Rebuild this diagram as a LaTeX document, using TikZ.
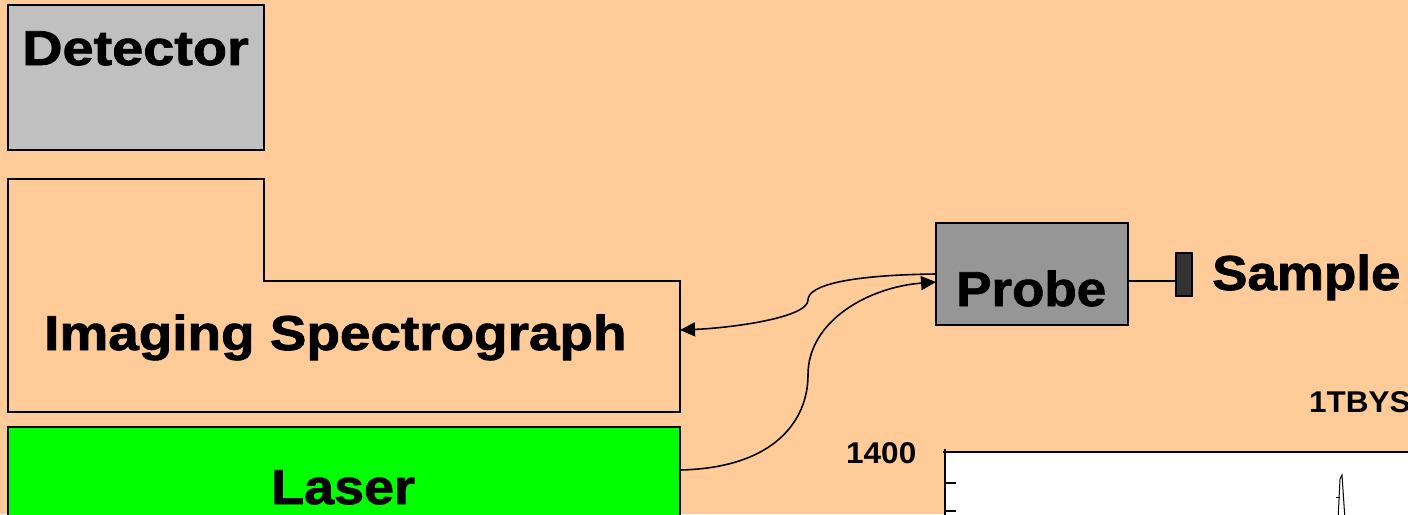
\documentclass[tikz,border=0pt]{standalone}
\usepackage{fontspec}
\setmainfont{Liberation Sans}
\newfontfamily\heavyfont[FakeBold=1.5]{Liberation Sans Bold}
\usetikzlibrary{arrows.meta}
\definecolor{bg}{HTML}{FFCC99}
\definecolor{detgray}{HTML}{C0C0C0}
\definecolor{probegray}{HTML}{969696}
\definecolor{lasergreen}{HTML}{00FF00}
\definecolor{sampgray}{HTML}{333333}
\begin{document}
\begin{tikzpicture}[x=1pt,y=-1pt,
  box/.style={draw=black,line width=2pt,inner sep=0pt,outer sep=0pt,anchor=north west},
  big/.style={font=\heavyfont\fontsize{49}{59}\selectfont,inner sep=0pt,anchor=base west},
  lbl/.style={font=\bfseries\fontsize{30}{36}\selectfont,inner sep=0pt,anchor=base west},
  conn/.style={line width=1.6pt,-{Triangle[length=15pt,width=14pt]}}]
\useasboundingbox (0,0) rectangle (1408,514);
\clip (0,0) rectangle (1408,514);
\fill[bg] (0,0) rectangle (1408,514);
% Detector
\node[box,fill=detgray,minimum width=256pt,minimum height=145pt] (det) at (8,5) {};
\node[big] (dettext) at (22,65) {\scalebox{1.14}[1]{Detector}};
% Imaging spectrograph
\draw[line width=2pt,fill=bg] (8,179) -- (264,179) -- (264,281) -- (680,281) -- (680,412) -- (8,412) -- cycle;
\coordinate (specin) at (680,330);
\node[big] (spectext) at (44,350) {\scalebox{1.12}[1]{Imaging Spectrograph}};
% Laser
\node[box,fill=lasergreen,minimum width=672pt,minimum height=100pt] (laser) at (8,427) {};
\coordinate (laserout) at (680,470);
\node[big] (lasertext) at (271,504) {\scalebox{1.1}[1]{Laser}};
% Probe
\node[box,fill=probegray,minimum width=192pt,minimum height=102pt] (probe) at (936,223) {};
\node[big] (probetext) at (956,306) {\scalebox{1.08}[1]{Probe}};
% Sample
\node[draw=black,line width=1.5pt,fill=sampgray,inner sep=0pt,outer sep=0pt,minimum width=16pt,minimum height=43pt,anchor=north west] (samp) at (1176,253) {};
\coordinate (probeout) at (1128,281);
\draw[line width=1.5pt] (probeout) -- (probeout -| samp.west);
\node[big] (samptext) at (1212,290) {\scalebox{1.08}[1]{Sample}};
% Connectors
\draw[conn] (probe.west) .. controls (850,275) and (808,285) .. (808,300)
  .. controls (808,318) and (730,328) .. (specin);
\draw[conn] (laserout) .. controls (775,468) and (808,420) .. (808,375)
  .. controls (808,320) and (870,287) .. ([yshift=-8pt]probe.west);
% Chart
\node[lbl] (title) at (1309,412) {\scalebox{1.05}[1]{1TBYS}};
\node[lbl] (ymax) at (846,463) {\scalebox{1.05}[1]{1400}};
\fill[white] (945,452) rectangle (1412,520);
\draw[line width=2pt] (943,452) -- (1412,452);
\draw[line width=2pt] (945,449) -- (945,520);
\draw[line width=1.5pt] (945,483) -- (956,483);
\draw[line width=1.5pt] (945,511) -- (956,511);
\draw[line width=1pt] (1338,520) -- (1340,479) -- (1342,475) -- (1345,520);
\draw[line width=1pt] (1336,497) -- (1340,497);
\end{tikzpicture}
\end{document}
